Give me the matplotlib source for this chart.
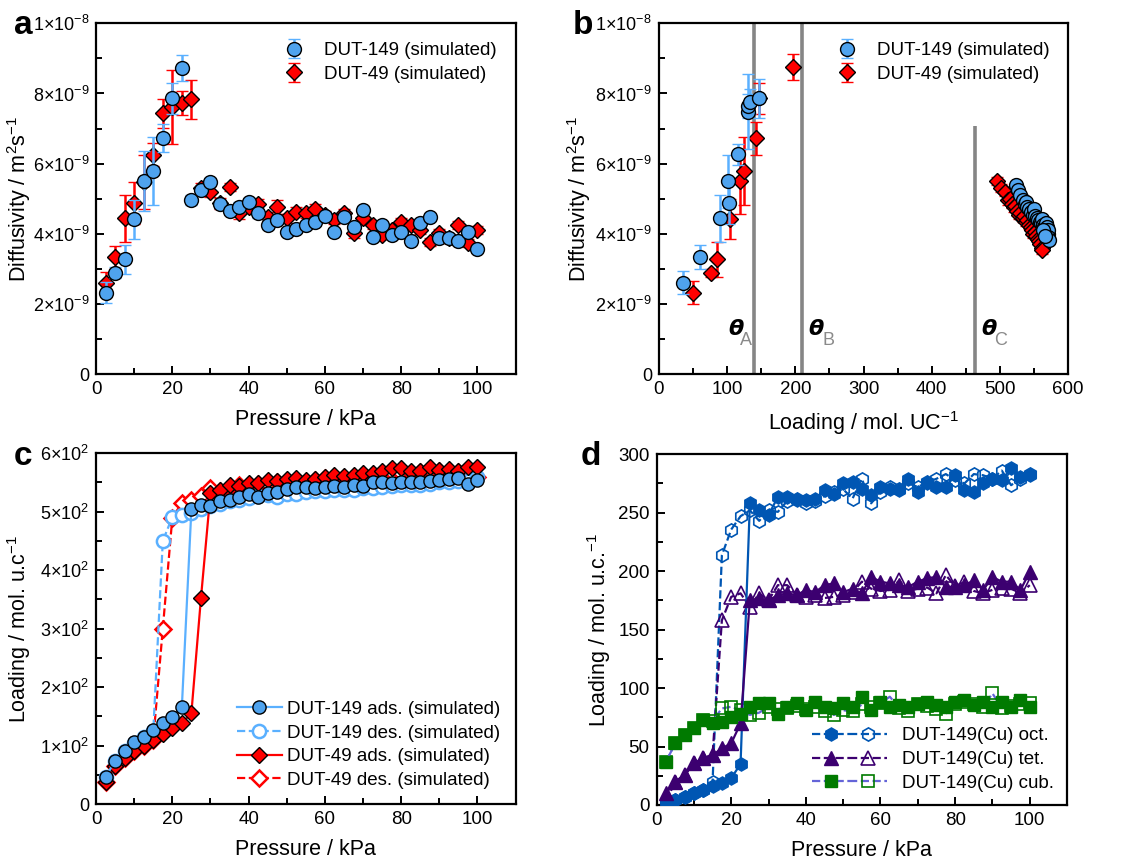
import matplotlib
matplotlib.use('Agg')
import matplotlib.pyplot as plt
from matplotlib.lines import Line2D
from matplotlib.legend_handler import HandlerTuple
import numpy as np

plt.rcParams['font.family'] = ['Liberation Sans', 'DejaVu Sans']
plt.rcParams['mathtext.fontset'] = 'custom'
plt.rcParams['mathtext.rm'] = 'Liberation Sans'
plt.rcParams['mathtext.it'] = 'Liberation Sans:italic'
plt.rcParams['mathtext.bf'] = 'Liberation Sans:bold'

# pressure grid (kPa), shared by panels a, c, d
pressure = [2.5, 5, 7.5, 10, 12.5, 15, 17.5, 20, 22.5, 25, 27.5, 30, 32.5, 35, 37.5, 40,
            42.5, 45, 47.5, 50, 52.5, 55, 57.5, 60, 62.5, 65, 67.5, 70, 72.5, 75, 77.5, 80,
            82.5, 85, 87.5, 90, 92.5, 95, 97.5, 100]

# panel a: diffusivity (1e-9 m2/s) vs pressure
a_d149 = [2.32, 2.89, 3.27, 4.41, 5.50, 5.79, 6.72, 7.86, 8.74, 4.96, 5.25, 5.48, 4.85, 4.66,
          4.77, 4.91, 4.58, 4.25, 4.39, 4.06, 4.15, 4.25, 4.34, 4.51, 4.06, 4.47, 4.18, 4.68,
          3.92, 4.25, 3.96, 4.06, 3.80, 4.32, 4.47, 3.87, 3.87, 3.80, 4.06, 3.58]
a_e149 = [0.30, 0.15, 0.42, 0.55, 0.85, 0.96, 0.40, 0.45, 0.37, 0.15, 0.12, 0.10, 0.12, 0.10,
          0.15, 0.12, 0.12, 0.12, 0.12, 0.10, 0.10, 0.10, 0.10, 0.10, 0.10, 0.10, 0.10, 0.10,
          0.10, 0.10, 0.10, 0.10, 0.10, 0.10, 0.10, 0.10, 0.10, 0.10, 0.10, 0.10]
a_d49 = [2.60, 3.33, 4.44, 4.87, 5.48, 6.25, 7.43, 7.62, 7.72, 7.83, 5.30, 5.20, 4.87, 5.34,
         4.58, 4.77, 4.85, 4.49, 4.77, 4.44, 4.63, 4.58, 4.72, 4.53, 4.39, 4.58, 4.01, 4.44,
         4.25, 3.96, 4.11, 4.34, 4.25, 4.11, 3.77, 4.01, 3.87, 4.25, 3.73, 4.11]
a_e49 = [0.30, 0.32, 0.67, 0.60, 0.77, 0.33, 0.40, 1.06, 0.34, 0.55, 0.15, 0.15, 0.15, 0.12,
         0.15, 0.15, 0.15, 0.12, 0.20, 0.12, 0.12, 0.12, 0.12, 0.12, 0.12, 0.12, 0.12, 0.12,
         0.12, 0.12, 0.12, 0.12, 0.12, 0.12, 0.12, 0.12, 0.12, 0.12, 0.12, 0.12]

# panel b: diffusivity vs loading
b_l149 = [35, 61, 90, 103, 102, 116, 130, 131, 133, 147,
          524, 527, 530, 533, 536, 538, 540, 543, 545, 548, 550, 552, 554, 556, 558,
          560, 561, 563, 564, 565, 566, 567, 568, 569, 570, 570, 571, 572, 563, 566]
b_d149 = [2.61, 3.33, 4.44, 4.87, 5.50, 6.27, 7.48, 7.64, 7.77, 7.86,
          5.38, 5.25, 5.10, 4.95, 4.85, 4.90, 4.75, 4.70, 4.62, 4.55, 4.70, 4.50, 4.45,
          4.40, 4.35, 4.30, 4.42, 4.25, 4.20, 4.10, 4.15, 4.30, 4.05, 4.20, 4.00, 4.12,
          3.90, 3.82, 4.10, 3.95]
b_e149 = [0.32, 0.34, 0.67, 0.60, 0.76, 0.30, 1.07, 0.34, 0.35, 0.56,
          0.10, 0.10, 0.10, 0.10, 0.10, 0.10, 0.10, 0.10, 0.10, 0.10, 0.10, 0.10, 0.10,
          0.10, 0.10, 0.10, 0.10, 0.10, 0.10, 0.10, 0.10, 0.10, 0.10, 0.10, 0.10, 0.10,
          0.10, 0.10, 0.10, 0.10]
b_l49 = [50, 76, 85, 104, 119, 125, 143, 147, 197,
         495, 502, 507, 511, 514, 517, 520, 522, 525, 528, 530, 533, 535, 538, 540, 542,
         545, 547, 549, 551, 553, 555, 557, 559, 561, 562]
b_d49 = [2.32, 2.89, 3.27, 4.42, 5.50, 5.79, 6.72, 7.86, 8.75,
         5.50, 5.30, 5.20, 4.95, 5.00, 4.85, 4.75, 4.80, 4.65, 4.55, 4.60, 4.45, 4.50,
         4.35, 4.40, 4.25, 4.20, 4.10, 4.00, 4.05, 3.95, 3.85, 3.80, 3.70, 3.60, 3.55]
b_e49 = [0.33, 0.12, 0.50, 0.56, 0.93, 0.96, 0.48, 0.44, 0.37,
         0.12, 0.12, 0.12, 0.12, 0.12, 0.12, 0.12, 0.12, 0.12, 0.12, 0.12, 0.12, 0.12,
         0.12, 0.12, 0.12, 0.12, 0.12, 0.12, 0.12, 0.12, 0.12, 0.12, 0.12, 0.12, 0.12]
theta_x = [140, 210, 463]
theta_top = [10, 10, 7.07]
theta_names = ['A', 'B', 'C']

# panel c: isotherms (mol/u.c.)
c_149_ads = [46.8, 73.6, 91, 105.5, 115, 126.6, 138, 149.5, 166.6, 505, 512, 509, 518.5, 520,
             526, 530, 526, 532, 534.5, 538.5, 543, 542, 541, 542, 544, 543, 546, 544, 551.6,
             551.6, 548.8, 551.6, 550.5, 551.6, 552.8, 554.5, 555.6, 557.3, 547.6, 554.5]
c_149_des = [46, 73, 90, 104, 114, 125, 450, 491, 494, 497, 505, 510, 514, 518, 520, 524, 527,
             528, 526, 530, 530, 533, 535, 536, 538, 537, 538, 540, 541, 542, 544, 545, 546,
             546, 548, 550, 550, 552, 553, 560]
c_49_ads = [38, 65, 78, 90, 100, 110, 120, 130, 138, 156, 352, 532, 537, 546, 544, 549, 549,
            554, 553, 555.6, 558.5, 554.5, 555.6, 560, 563, 561, 563, 567, 566, 569, 574, 574,
            570, 569, 577, 571.6, 572.7, 569, 577, 576]
c_49_des = [38, 65, 78, 90, 100, 110, 300, 490, 515, 520, 527, 540, 535, 542, 546, 544, 548,
            547, 550, 552, 553, 551, 555, 557, 559, 558, 560, 563, 562, 565, 568, 567, 566,
            568, 572, 569, 570, 568, 571, 560]

# panel d: DUT-149(Cu) per cage type
oct_ads = [1, 4, 7, 10, 13, 16, 18.5, 23, 35, 258, 252, 248, 263.5, 263.5, 260.7, 260.7, 262,
           269, 266, 275, 276, 270.6, 265, 272, 270.6, 269, 279, 268, 275, 272, 272, 282, 269,
           268, 275, 279, 278, 288, 280.6, 282]
oct_des = [1, 4, 7, 10, 13, 20, 213.7, 235.6, 247, 252, 243, 252, 250.7, 260, 262, 258, 260,
           264, 268, 270, 262, 279, 258, 268, 272, 270, 275, 272, 276, 279, 283, 278, 275, 283,
           282, 279, 286, 273.5, 279, 283]
tet_ads = [10, 20, 25.6, 35.6, 40, 42.7, 48.4, 52.7, 69.8, 175, 176.6, 175, 179.5, 181, 179.5,
           183.8, 182, 188, 189.5, 182, 185, 181, 195, 191, 189.5, 188, 186.6, 191, 194, 195,
           186.6, 186.6, 188, 192, 183.8, 195, 191, 191, 183.8, 199.4]
tet_des = [3, 20, 25.6, 35.6, 40, 43, 158, 178, 181, 169.5, 181, 175, 188, 188, 180, 178, 180,
           177, 178, 180, 182, 191, 185, 183, 184, 192, 183, 185, 186, 181, 196.6, 187, 191,
           183, 181, 184, 186, 185, 181, 188]
cub_ads = [37, 52.7, 60, 65.5, 72.6, 70, 71, 75.5, 78, 84, 87, 87.5, 78, 84, 87, 81, 88.3, 84,
           82.6, 87, 84, 92.6, 81, 88.3, 84, 85.5, 84, 86.3, 88.3, 85.5, 84, 88.3, 89.7, 85.5,
           88.3, 84, 88.3, 84, 89.7, 84]
cub_des = [37, 52.7, 60, 65.5, 72.6, 72, 82.6, 84, 81, 77, 79, 84, 82, 83, 85, 82, 84, 80, 77,
           81, 80, 86, 84, 87, 92.6, 83, 80, 86, 85, 82, 78, 86, 88, 86, 84, 95.4, 83, 85, 86, 87]

p_ticks = [0, 20, 40, 60, 80, 100]
d_ticks = [0, 2, 4, 6, 8, 10]
d_ticklabels = ['0', '2×10$^{-9}$', '4×10$^{-9}$', '6×10$^{-9}$', '8×10$^{-9}$',
                '1×10$^{-8}$']
c_ticks = [0, 100, 200, 300, 400, 500, 600]
c_ticklabels = ['0', '1×10$^{2}$', '2×10$^{2}$', '3×10$^{2}$', '4×10$^{2}$', '5×10$^{2}$',
                '6×10$^{2}$']

BLUE = '#4fa3ee'
BLUE_E = '#5ab0ff'
RED = '#ff0000'
OCT = '#0056b3'
TET = '#3c0070'
CUB = '#007a00'
CUB_L = '#6464d8'

P = np.array(pressure)
sc = 1e-9

fig = plt.figure(figsize=(11.34, 8.64), dpi=100)
ax_a = fig.add_axes([0.0847, 0.567, 0.370, 0.406])
ax_b = fig.add_axes([0.581, 0.567, 0.361, 0.406])
ax_c = fig.add_axes([0.0847, 0.0694, 0.370, 0.406])
ax_d = fig.add_axes([0.579, 0.0683, 0.362, 0.406])


def style(ax, ylab_x):
    for s in ax.spines.values():
        s.set_linewidth(1.6)
    ax.tick_params(which='both', direction='in', top=False, right=False, labelsize=13.5,
                   width=1.4, pad=5)
    ax.tick_params(axis='y', labelsize=13)
    ax.tick_params(which='major', length=6)
    ax.tick_params(which='minor', length=4)
    ax.yaxis.set_label_coords(ylab_x, 0.5)


# ---- panel a
ax_a.errorbar(P, np.array(a_d49) * sc, yerr=np.array(a_e49) * sc, fmt='D', ms=8.5,
              mfc=RED, mec='black', mew=1.0, ecolor=RED, elinewidth=1.8, capsize=4,
              capthick=1.8, label='DUT-49 (simulated)', zorder=3)
ax_a.errorbar(P, np.array(a_d149) * sc, yerr=np.array(a_e149) * sc, fmt='o', ms=10,
              mfc=BLUE, mec='black', mew=1.0, ecolor=BLUE_E, elinewidth=1.8, capsize=4,
              capthick=1.8, label='DUT-149 (simulated)', zorder=4)
ax_a.set_xlim(0, 110)
ax_a.set_ylim(0, 1e-8)
ax_a.set_xticks(p_ticks)
ax_a.set_xticks([10, 30, 50, 70, 90, 110], minor=True)
ax_a.set_yticks(np.array(d_ticks) * sc)
ax_a.set_yticklabels(d_ticklabels)
ax_a.set_yticks(np.array([1, 3, 5, 7, 9]) * sc, minor=True)
ax_a.set_xlabel('Pressure / kPa', fontsize=15.5, labelpad=8)
ax_a.set_ylabel(r'Diffusivity / m$^2$s$^{-1}$', fontsize=15.5)
h, l = ax_a.get_legend_handles_labels()
ax_a.legend(h[::-1], l[::-1], loc='upper right', frameon=False, fontsize=13.5,
            handletextpad=0.6, borderaxespad=0.6, labelspacing=0.35)
style(ax_a, -0.15)

# ---- panel b
ax_b.vlines(theta_x, 0, np.array(theta_top) * sc, colors='#858585', lw=2.6, zorder=2)
theta_dx = [-38, 9, 9]
sub_dx = [17, 21, 19]
for xv, nm, dx, sdx in zip(theta_x, theta_names, theta_dx, sub_dx):
    ax_b.text(xv + dx, 1.28e-9, 'θ', fontsize=16, fontweight='bold', fontstyle='italic',
              ha='left', va='center', family='DejaVu Sans')
    ax_b.text(xv + dx + sdx, 0.96e-9, nm, fontsize=13, color='#8a8a8a', ha='left',
              va='center')
ax_b.errorbar(b_l49, np.array(b_d49) * sc, yerr=np.array(b_e49) * sc, fmt='D', ms=8.5,
              mfc=RED, mec='black', mew=1.0, ecolor=RED, elinewidth=1.8, capsize=4,
              capthick=1.8, label='DUT-49 (simulated)', zorder=3)
ax_b.errorbar(b_l149, np.array(b_d149) * sc, yerr=np.array(b_e149) * sc, fmt='o', ms=10,
              mfc=BLUE, mec='black', mew=1.0, ecolor=BLUE_E, elinewidth=1.8, capsize=4,
              capthick=1.8, label='DUT-149 (simulated)', zorder=4)
ax_b.set_xlim(0, 600)
ax_b.set_ylim(0, 1e-8)
ax_b.set_xticks([0, 100, 200, 300, 400, 500, 600])
ax_b.set_xticks([50, 150, 250, 350, 450, 550], minor=True)
ax_b.set_yticks(np.array(d_ticks) * sc)
ax_b.set_yticklabels(d_ticklabels)
ax_b.set_yticks(np.array([1, 3, 5, 7, 9]) * sc, minor=True)
ax_b.set_xlabel(r'Loading / mol. UC$^{-1}$', fontsize=15.5, labelpad=8)
ax_b.set_ylabel(r'Diffusivity / m$^2$s$^{-1}$', fontsize=15.5)
h, l = ax_b.get_legend_handles_labels()
ax_b.legend(h[::-1], l[::-1], loc='upper right', frameon=False, fontsize=13.5,
            handletextpad=0.6, borderaxespad=0.6, labelspacing=0.35)
style(ax_b, -0.161)

# ---- panel c
ax_c.plot(P, c_49_des, ls='--', color=RED, lw=1.6, marker='D', ms=8.5, mfc='white',
          mec=RED, mew=1.8, label='DUT-49 des. (simulated)', zorder=2)
ax_c.plot(P, c_149_des, ls='--', color=BLUE_E, lw=1.6, marker='o', ms=9.5, mfc='white',
          mec=BLUE_E, mew=1.8, label='DUT-149 des. (simulated)', zorder=2)
ax_c.plot(P, c_49_ads, ls='-', color=RED, lw=1.6, marker='D', ms=8.5, mfc=RED,
          mec='black', mew=1.0, label='DUT-49 ads. (simulated)', zorder=3)
ax_c.plot(P, c_149_ads, ls='-', color=BLUE_E, lw=1.6, marker='o', ms=9.5, mfc=BLUE,
          mec='black', mew=1.0, label='DUT-149 ads. (simulated)', zorder=4)
ax_c.set_xlim(0, 110)
ax_c.set_ylim(0, 600)
ax_c.set_xticks(p_ticks)
ax_c.set_xticks([10, 30, 50, 70, 90, 110], minor=True)
ax_c.set_yticks(c_ticks)
ax_c.set_yticklabels(c_ticklabels)
ax_c.set_yticks([50, 150, 250, 350, 450, 550], minor=True)
ax_c.set_xlabel('Pressure / kPa', fontsize=15.5, labelpad=8)
ax_c.set_ylabel(r'Loading / mol. u.c$^{-1}$', fontsize=15.5)
h, l = ax_c.get_legend_handles_labels()
order = [3, 1, 2, 0]
ax_c.legend([h[i] for i in order], [l[i] for i in order], loc='lower right', frameon=False,
            fontsize=13.5, handlelength=2.4, handletextpad=0.3, borderaxespad=0.4,
            labelspacing=0.35)
style(ax_c, -0.15)

# ---- panel d
series = [('oct.', oct_ads, oct_des, 'h', OCT, OCT, 9.5),
          ('tet.', tet_ads, tet_des, '^', TET, TET, 9.5),
          ('cub.', cub_ads, cub_des, 's', CUB, CUB_L, 8.5)]
handles = []
for name, ads, des, mk, col, lcol, ms in series:
    ax_d.plot(P, des, ls='--', color=lcol, lw=1.6, marker=mk, ms=ms, mfc='none', mec=col,
              mew=1.2, zorder=2)
    ax_d.plot(P, ads, ls='-', color=lcol, lw=1.6, marker=mk, ms=ms, mfc=col, mec=col,
              mew=1.0, zorder=3)
    hf = Line2D([], [], ls='--', color=lcol, lw=1.6, marker=mk, ms=ms, mfc=col, mec=col)
    ho = Line2D([], [], ls='--', color=lcol, lw=1.6, marker=mk, ms=ms, mfc='none', mec=col,
                mew=1.2)
    handles.append(((hf, ho), 'DUT-149(Cu) ' + name))
ax_d.set_xlim(0, 110)
ax_d.set_ylim(0, 300)
ax_d.set_xticks(p_ticks)
ax_d.set_xticks([10, 30, 50, 70, 90, 110], minor=True)
ax_d.set_yticks([0, 50, 100, 150, 200, 250, 300])
ax_d.set_yticks([25, 75, 125, 175, 225, 275], minor=True)
ax_d.set_xlabel('Pressure / kPa', fontsize=15.5, labelpad=8)
ax_d.set_ylabel(r'Loading / mol. u.c.$^{-1}$', fontsize=15.5)
ax_d.legend([hh for hh, _ in handles], [ll for _, ll in handles], loc='lower right',
            frameon=False, fontsize=13.5, handlelength=4.0, handletextpad=0.8,
            borderaxespad=0.3, labelspacing=0.35,
            handler_map={tuple: HandlerTuple(ndivide=None, pad=0.0)})
style(ax_d, -0.107)
ax_d.tick_params(axis='y', labelsize=13.5)

# panel letters
for txt, x, y in [('a', 0.012, 0.988), ('b', 0.505, 0.988), ('c', 0.012, 0.490),
                  ('d', 0.512, 0.490)]:
    fig.text(x, y, txt, fontsize=24, fontweight='bold', ha='left', va='top')

fig.savefig('out.png', dpi=100)
